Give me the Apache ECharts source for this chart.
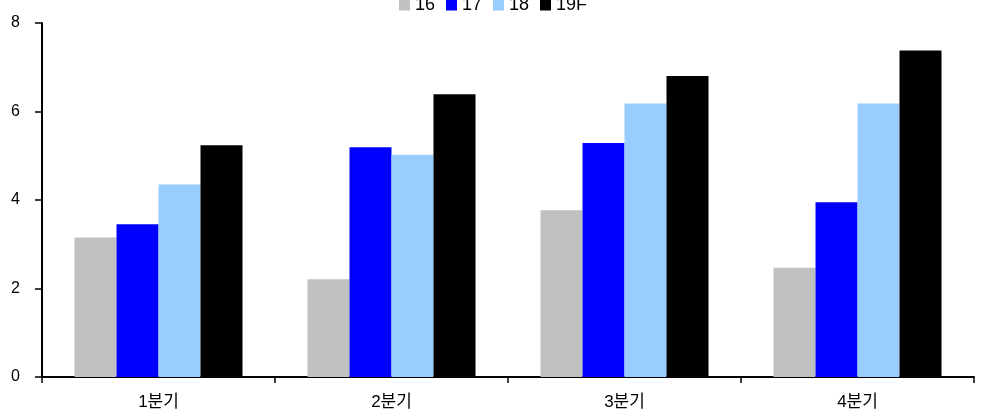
<!DOCTYPE html>
<html><head><meta charset="utf-8">
<script src="https://cdn.jsdelivr.net/npm/echarts@6/dist/echarts.min.js"></script>
<style>html,body{margin:0;padding:0;background:#fff}#c{width:986px;height:418px}</style>
</head><body><div id="c"></div>
<script>
const categories = ['1분기','2분기','3분기','4분기'];
const seriesNames = ['16','17','18','19F'];
const s16 = [3.15, 2.21, 3.77, 2.47];
const s17 = [3.45, 5.19, 5.29, 3.95];
const s18 = [4.35, 5.02, 6.18, 6.18];
const s19F = [5.24, 6.39, 6.80, 7.38];
const yTicks = [0, 2, 4, 6, 8];
const colors = ['#C0C0C0', '#0000FF', '#99CCFF', '#000000'];
const FONT = '"Liberation Sans", Arial, "Noto Sans CJK KR", sans-serif';
const values = [s16, s17, s18, s19F];
const chart = echarts.init(document.getElementById('c'));
chart.setOption({
  animation: false,
  textStyle: {fontFamily: FONT},
  legend: {
    top: -9, left: 'center',
    itemWidth: 11, itemHeight: 11, itemGap: 11,
    textStyle: {fontFamily: FONT, fontSize: 18, color: '#000'},
    icon: 'rect',
    data: seriesNames
  },
  grid: {left: 42, right: 12, top: 23, bottom: 41},
  xAxis: {
    type: 'category', data: categories,
    axisLine: {lineStyle: {color: '#000', width: 2}},
    axisTick: {show: true, length: 6, lineStyle: {color: '#000', width: 1.5}},
    axisLabel: {color: '#000', fontSize: 17, fontFamily: FONT, margin: 17}
  },
  yAxis: {
    type: 'value', min: yTicks[0], max: yTicks[yTicks.length-1], interval: 2,
    splitLine: {show: false},
    axisLine: {show: true, lineStyle: {color: '#000', width: 2}},
    axisTick: {show: true, length: 7, lineStyle: {color: '#000', width: 1.5}},
    axisLabel: {color: '#000', fontSize: 16, fontFamily: FONT, margin: 22}
  },
  series: seriesNames.map((n, i) => ({
    name: n, type: 'bar', data: values[i],
    barWidth: 42, barGap: '0%',
    itemStyle: {color: colors[i]}
  }))
});
</script></body></html>
